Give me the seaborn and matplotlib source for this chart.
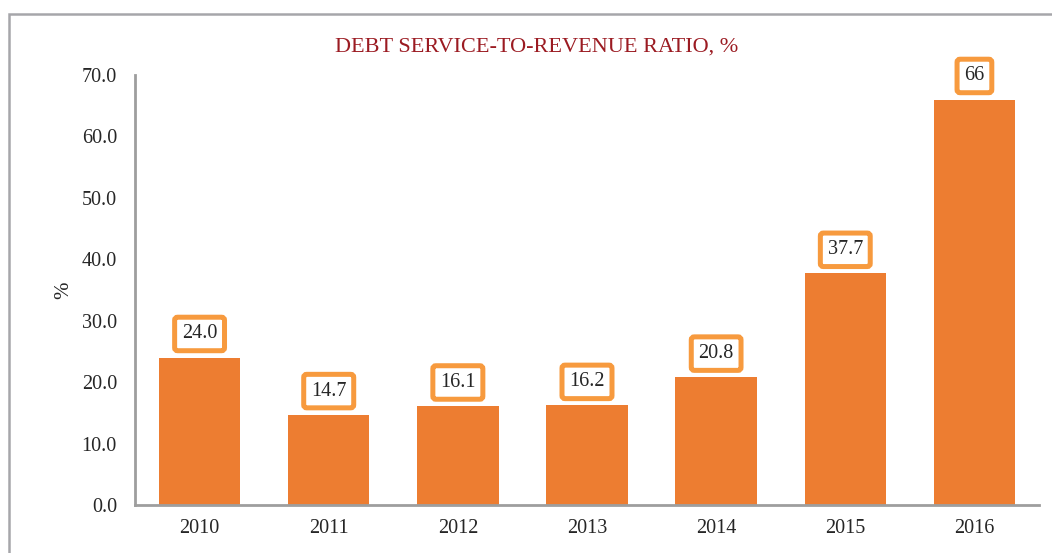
import matplotlib
matplotlib.use("Agg")
import matplotlib.pyplot as plt
import seaborn as sns
import pandas as pd
from matplotlib.patches import Rectangle

# Debt service-to-revenue ratio by year
years = ["2010", "2011", "2012", "2013", "2014", "2015", "2016"]
ratio = [24.0, 14.7, 16.1, 16.2, 20.8, 37.7, 66.0]
value_labels = ["24.0", "14.7", "16.1", "16.2", "20.8", "37.7", "66"]
y_ticks = [0, 10, 20, 30, 40, 50, 60, 70]

df = pd.DataFrame({"year": years, "ratio": ratio})

sns.set_theme(style="white")
plt.rcParams["font.family"] = ["Liberation Serif", "DejaVu Serif"]

W, H, DPI = 1052, 553, 100
fig = plt.figure(figsize=(W / DPI, H / DPI), dpi=DPI)
ax = fig.add_axes([135 / W, 1 - 505 / H, (1039 - 135) / W, (505 - 75) / H])

bar_color = "#ED7D31"
sns.barplot(data=df, x="year", y="ratio", color=bar_color, saturation=1,
            width=0.63, ax=ax, edgecolor="none")

ax.set_ylim(0, 70)
ax.set_xlim(-0.5, len(years) - 0.5)
ax.set_yticks(y_ticks)
ax.set_yticklabels([f"{t:.1f}" for t in y_ticks])
ax.tick_params(axis="both", labelsize=14.5, colors="#262626", length=0)
ax.tick_params(axis="y", pad=13)
ax.tick_params(axis="x", pad=10)
ax.set_xlabel("")
ax.set_ylabel("%", fontsize=15, color="#262626")
ax.yaxis.set_label_coords((73 - 135) / (1039 - 135), (505 - 290) / (505 - 75))

for side in ["top", "right"]:
    ax.spines[side].set_visible(False)
for side in ["left", "bottom"]:
    ax.spines[side].set_color("#9E9E9E")
    ax.spines[side].set_linewidth(2)

# Value labels in white boxes with an orange outline
for i, (v, lab) in enumerate(zip(ratio, value_labels)):
    ax.annotate(lab, xy=(i, v), xytext=(0, 17), textcoords="offset points",
                ha="center", va="center", fontsize=14.5, color="#262626",
                bbox=dict(boxstyle="round,pad=0.36,rounding_size=0.15",
                          fc="white", ec="#F79A3E", lw=3.6))

fig.text(537 / W, 1 - 47 / H, "DEBT SERVICE-TO-REVENUE RATIO, %",
         ha="center", va="center", fontsize=16, color="#9B1B22")

# Outer chart frame
fig.patches.append(Rectangle((9 / W, -0.05), 1.2, 1 - 14 / H + 0.05,
                             transform=fig.transFigure, fill=False,
                             ec="#A6A6AA", lw=1.8))

fig.savefig("out.png", dpi=DPI)
